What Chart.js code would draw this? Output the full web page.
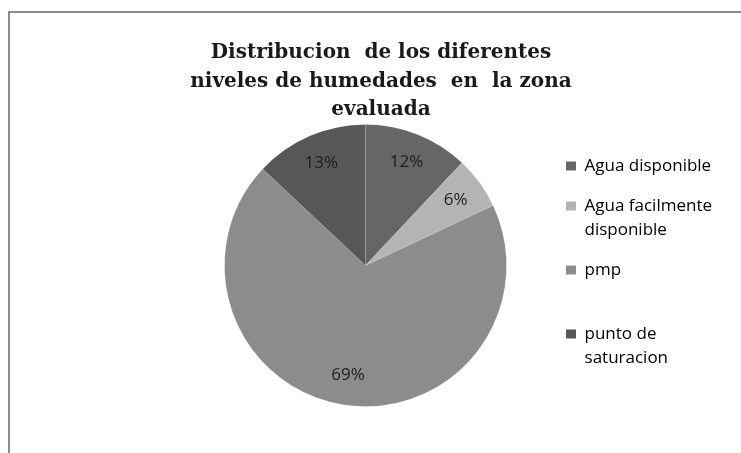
<!DOCTYPE html>
<html lang="es">
<head>
<meta charset="utf-8">
<title>Niveles de humedad</title>
<script src="https://cdn.jsdelivr.net/npm/chart.js@4.4.1/dist/chart.umd.min.js"></script>
<style>
  html, body { margin: 0; padding: 0; background: #fff; overflow: hidden; }
  #marco {
    position: absolute; left: 8px; top: 11px; width: 760px; height: 460px;
    border-left: 2px solid #8c8c8c; border-top: 2px solid #8c8c8c;
  }
  #titulo {
    position: absolute; left: 131px; top: 37px; width: 500px;
    text-align: center; white-space: pre;
    font-family: "DejaVu Serif", serif; font-weight: bold;
    font-size: 20px; line-height: 28.5px; color: #1a1a1a;
  }
  #grafico { position: absolute; left: 0; top: 0; }
</style>
</head>
<body>
<div id="marco"></div>
<canvas id="grafico" width="741" height="453"></canvas>
<div id="titulo">Distribucion  de los diferentes
niveles de humedades  en  la zona
evaluada</div>
<script>
// Datos del grafico
const categorias = ['Agua disponible', 'Agua facilmente disponible', 'pmp', 'punto de saturacion'];
const porcentajes = [12, 6, 69, 13];
// Texto de la leyenda, cortado en renglones
const lineasLeyenda = [
  ['Agua disponible'],
  ['Agua facilmente', 'disponible'],
  ['pmp'],
  ['punto de', 'saturacion']
];

const colores = ['#666666', '#b4b4b4', '#8c8c8c', '#575757'];

// Escribe el porcentaje dentro de cada porcion
const etiquetasPorcentaje = {
  id: 'etiquetasPorcentaje',
  afterDatasetsDraw(chart) {
    const ctx = chart.ctx;
    const meta = chart.getDatasetMeta(0);
    ctx.save();
    ctx.font = '17px "Open Sans"';
    ctx.fillStyle = '#1e1e1e';
    ctx.textAlign = 'center';
    ctx.textBaseline = 'middle';
    meta.data.forEach(function (arc, i) {
      const p = arc.getProps(['x', 'y', 'startAngle', 'endAngle', 'outerRadius'], true);
      const medio = (p.startAngle + p.endAngle) / 2;
      const r = p.outerRadius * 0.79;
      ctx.fillText(porcentajes[i] + '%', p.x + Math.cos(medio) * r, p.y + Math.sin(medio) * r);
    });
    ctx.restore();
  }
};

new Chart(document.getElementById('grafico'), {
  type: 'pie',
  data: {
    labels: categorias,
    datasets: [{
      data: porcentajes,
      backgroundColor: colores,
      borderColor: 'rgba(255, 255, 255, 0.12)',
      borderWidth: 1
    }]
  },
  options: {
    responsive: false,
    animation: false,
    layout: { padding: { top: 124, bottom: 46, left: 181, right: 19 } },
    plugins: {
      tooltip: { enabled: false },
      legend: {
        position: 'right',
        labels: {
          boxWidth: 10,
          boxHeight: 9,
          padding: 16,
          color: '#444444',
          font: { family: 'Open Sans', size: 17, lineHeight: 24 / 17 },
          generateLabels: function () {
            return lineasLeyenda.map(function (lineas, i) {
              // renglon vacio despues de "pmp" para separar la ultima entrada
              return {
                text: i === 2 ? lineas.concat(['']) : lineas,
                fillStyle: colores[i],
                strokeStyle: colores[i],
                lineWidth: 0,
                hidden: false,
                index: i
              };
            });
          }
        }
      }
    }
  },
  plugins: [etiquetasPorcentaje]
});
</script>
</body>
</html>
